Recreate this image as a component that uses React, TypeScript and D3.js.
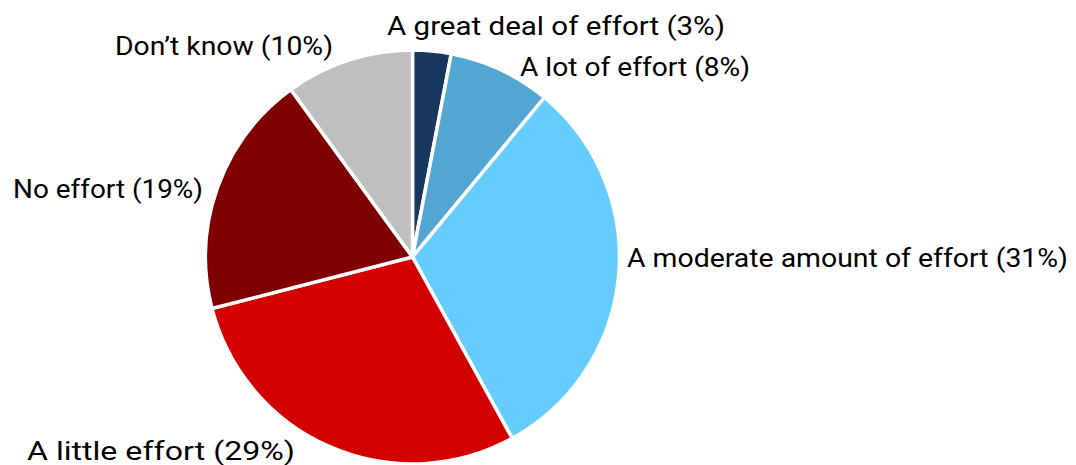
import React from "react";
import * as d3 from "d3";

const categories = [
  "A great deal of effort",
  "A lot of effort",
  "A moderate amount of effort",
  "A little effort",
  "No effort",
  "Don’t know",
];
const values = [3, 8, 31, 29, 19, 10];
const colors = ["#17375E", "#53A6D1", "#66CCFF", "#D40000", "#800000", "#BFBFBF"];
// label placement: x, baseline y, text width – layout only
const labelPos: [number, number, number][] = [
  [387, 35, 338],
  [520, 76, 230],
  [627, 267, 441],
  [27, 460, 268],
  [13, 198, 190],
  [115, 55, 218],
];

const W = 1076;
const H = 465;
const cx = 412.5;
const cy = 257;
const R = 207;

export default function App() {
  const pie = d3.pie<number>().sort(null).value((d) => d);
  const arcs = pie(values);
  const arc = d3.arc<d3.PieArcDatum<number>>().innerRadius(0).outerRadius(R);
  return (
    <svg
      width={W}
      height={H}
      style={{ position: "absolute", left: 0, top: 0 }}
      fontFamily="Roboto, sans-serif"
    >
      <g transform={`translate(${cx},${cy})`}>
        {arcs.map((a, i) => (
          <path
            key={i}
            d={arc(a) || ""}
            fill={colors[i]}
            stroke="#fff"
            strokeWidth={3.5}
            strokeLinejoin="miter"
          />
        ))}
      </g>
      {categories.map((c, i) => (
        <text
          key={i}
          x={labelPos[i][0]}
          y={labelPos[i][1]}
          fontSize={26}
          fill="#000"
          textLength={labelPos[i][2]}
          lengthAdjust="spacingAndGlyphs"
        >
          {`${c} (${values[i]}%)`}
        </text>
      ))}
    </svg>
  );
}
